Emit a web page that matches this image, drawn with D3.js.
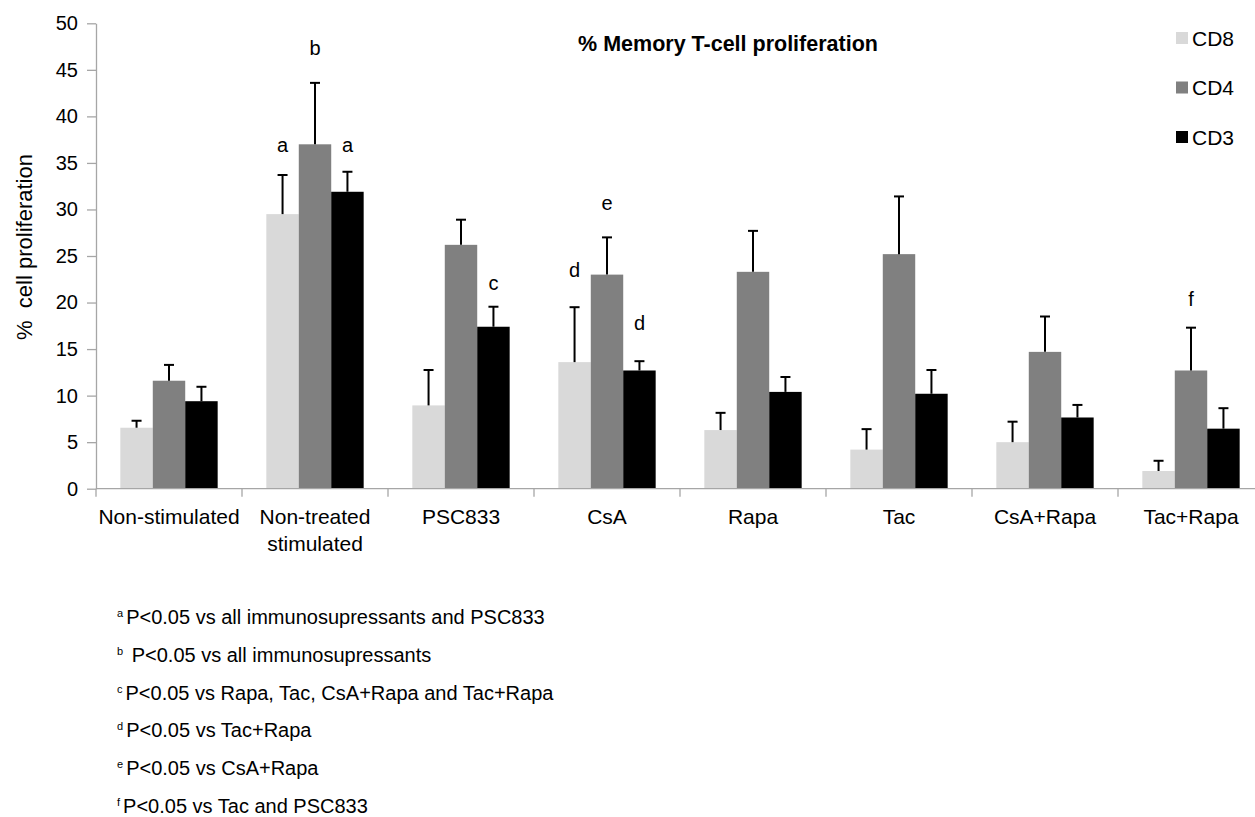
<!DOCTYPE html>
<html>
<head>
<meta charset="utf-8">
<script src="https://cdn.jsdelivr.net/npm/d3@7"></script>
<style>
  body { margin: 0; background: #fff; }
  svg { display: block; font-family: "Liberation Sans", Arial, sans-serif; }
</style>
</head>
<body>
<svg id="chart" width="1255" height="817"></svg>
<script>
// data
var categories = ["Non-stimulated", "Non-treated stimulated", "PSC833", "CsA", "Rapa", "Tac", "CsA+Rapa", "Tac+Rapa"];
var catLines = [["Non-stimulated"], ["Non-treated", "stimulated"], ["PSC833"], ["CsA"], ["Rapa"], ["Tac"], ["CsA+Rapa"], ["Tac+Rapa"]];
var series = ["CD8", "CD4", "CD3"];
var seriesColors = ["#d9d9d9", "#808080", "#000000"];

var cd8 = [6.55, 29.5, 8.95, 13.6, 6.3, 4.2, 5.0, 1.9];
var cd4 = [11.6, 37.0, 26.2, 23.0, 23.3, 25.2, 14.7, 12.7];
var cd3 = [9.4, 31.9, 17.4, 12.7, 10.4, 10.2, 7.65, 6.45];

var cd8Err = [0.75, 4.2, 3.8, 5.9, 1.85, 2.2, 2.2, 1.1];
var cd4Err = [1.7, 6.6, 2.7, 4.0, 4.4, 6.2, 3.8, 4.6];
var cd3Err = [1.55, 2.15, 2.15, 1.0, 1.6, 2.55, 1.35, 2.2];

var yTicks = [0, 5, 10, 15, 20, 25, 30, 35, 40, 45, 50];

// significance letters: category, series, label height (baseline, in % units)
var marks = [
  {cat: "Non-treated stimulated", s: "CD8", t: "a", v: 36.2},
  {cat: "Non-treated stimulated", s: "CD4", t: "b", v: 46.6},
  {cat: "Non-treated stimulated", s: "CD3", t: "a", v: 36.2},
  {cat: "PSC833", s: "CD3", t: "c", v: 21.3},
  {cat: "CsA", s: "CD8", t: "d", v: 22.7},
  {cat: "CsA", s: "CD4", t: "e", v: 29.9},
  {cat: "CsA", s: "CD3", t: "d", v: 17.05},
  {cat: "Tac+Rapa", s: "CD4", t: "f", v: 19.6}
];

var footSup = ["a", "b", "c", "d", "e", "f"];
var footText = [
  "P<0.05 vs all immunosupressants and PSC833",
  "\u00a0P<0.05 vs all immunosupressants",
  "P<0.05 vs Rapa, Tac, CsA+Rapa and Tac+Rapa",
  "P<0.05 vs Tac+Rapa",
  "P<0.05 vs CsA+Rapa",
  "P<0.05 vs Tac and PSC833"
];

var svg = d3.select("#chart");
var axisColor = "#a6a6a6";

var x0 = d3.scaleBand().domain(categories).range([96, 96 + 146 * 8]).paddingInner(0).paddingOuter(0);
var x1 = d3.scaleBand().domain(series).range([0, x0.bandwidth()]).paddingInner(0).paddingOuter(0.75);
var y = d3.scaleLinear().domain([0, 50]).range([488.7, 23.3]);

var values = [cd8, cd4, cd3];
var errs = [cd8Err, cd4Err, cd3Err];
var rows = [];
categories.forEach(function (c, i) {
  series.forEach(function (s, j) {
    rows.push({cat: c, s: s, v: values[j][i], e: errs[j][i], color: seriesColors[j]});
  });
});

// y axis
var yAxis = svg.append("g")
  .attr("transform", "translate(96,0)")
  .call(d3.axisLeft(y).tickValues(yTicks).tickSize(9).tickPadding(9).tickSizeOuter(0));
yAxis.select(".domain").attr("stroke", axisColor).attr("stroke-width", 1.3);
yAxis.selectAll(".tick line").attr("stroke", axisColor).attr("stroke-width", 1.3);
yAxis.selectAll(".tick text").attr("fill", "#000").style("font-size", "20px")
  .style("font-family", "'Liberation Sans', Arial, sans-serif");

// bars
svg.append("g").selectAll("rect")
  .data(rows).enter()
  .append("rect")
  .attr("x", d => x0(d.cat) + x1(d.s))
  .attr("y", d => y(d.v))
  .attr("width", x1.bandwidth())
  .attr("height", d => y(0) - y(d.v))
  .attr("fill", d => d.color);

// error bars (upper only)
var eg = svg.append("g").attr("stroke", "#000").attr("stroke-width", 2);
rows.forEach(function (d) {
  var cx = x0(d.cat) + x1(d.s) + x1.bandwidth() / 2;
  eg.append("line").attr("x1", cx).attr("x2", cx).attr("y1", y(d.v)).attr("y2", y(d.v + d.e));
  eg.append("line").attr("x1", cx - 5).attr("x2", cx + 5).attr("y1", y(d.v + d.e)).attr("y2", y(d.v + d.e));
});

// x axis line and category boundary ticks
svg.append("line")
  .attr("x1", 96).attr("x2", 1255)
  .attr("y1", y(0)).attr("y2", y(0))
  .attr("stroke", axisColor).attr("stroke-width", 1.3);
svg.append("g").selectAll("line")
  .data(categories).enter()
  .append("line")
  .attr("x1", d => x0(d)).attr("x2", d => x0(d))
  .attr("y1", y(0)).attr("y2", y(0) + 8)
  .attr("stroke", axisColor).attr("stroke-width", 1.3);

// category labels
var cl = svg.append("g").selectAll("text")
  .data(categories).enter()
  .append("text")
  .attr("text-anchor", "middle")
  .attr("y", 524)
  .style("font-size", "21px")
  .attr("fill", "#000");
cl.each(function (d, i) {
  var t = d3.select(this);
  catLines[i].forEach(function (line, k) {
    t.append("tspan")
      .attr("x", x0(d) + x0.bandwidth() / 2)
      .attr("dy", k === 0 ? 0 : 27)
      .text(line);
  });
});

// significance letters
svg.append("g").selectAll("text")
  .data(marks).enter()
  .append("text")
  .attr("text-anchor", "middle")
  .attr("x", d => x0(d.cat) + x1(d.s) + x1.bandwidth() / 2)
  .attr("y", d => y(d.v))
  .style("font-size", "20px")
  .text(d => d.t);

// y label
svg.append("text")
  .attr("transform", "translate(32,247) rotate(-90)")
  .attr("text-anchor", "middle")
  .style("font-size", "22px")
  .text("%\u00a0 cell proliferation");

// title
svg.append("text")
  .attr("x", 728).attr("y", 51)
  .attr("text-anchor", "middle")
  .style("font-size", "21.5px")
  .style("font-weight", "bold")
  .text("% Memory T-cell proliferation");

// legend
var lg = svg.append("g").selectAll("g")
  .data(series).enter()
  .append("g")
  .attr("transform", (d, i) => "translate(1176," + (38 + i * 49.5) + ")");
lg.append("rect")
  .attr("x", 0).attr("y", -6).attr("width", 12).attr("height", 12)
  .attr("fill", (d, i) => seriesColors[i]);
lg.append("text")
  .attr("x", 16).attr("dy", "0.36em")
  .style("font-size", "21px")
  .text(d => d);

// footnotes
var fn = svg.append("g").selectAll("text")
  .data(footText).enter()
  .append("text")
  .attr("x", 117)
  .attr("y", (d, i) => 624 + i * 37.8)
  .style("font-size", "20px");
fn.append("tspan")
  .style("font-size", "11px")
  .attr("dy", -7)
  .text((d, i) => footSup[i]);
fn.append("tspan")
  .attr("dy", 7)
  .attr("dx", 3)
  .text(d => d);
</script>
</body>
</html>
